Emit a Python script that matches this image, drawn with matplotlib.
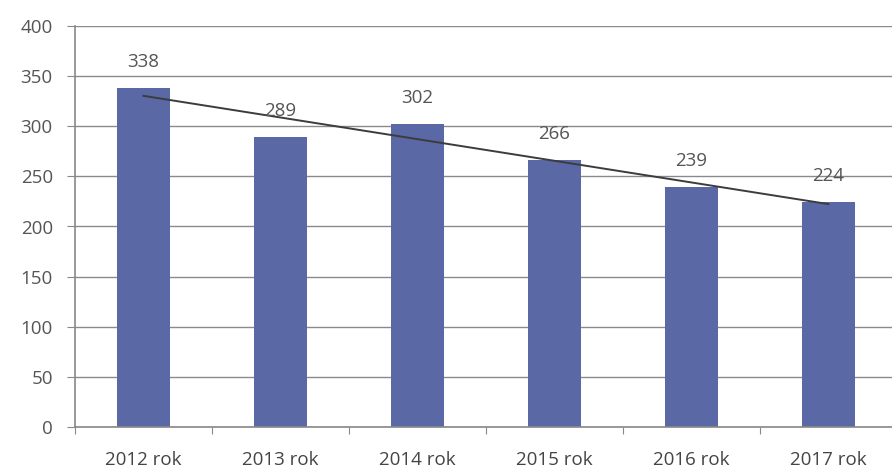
import numpy as np
import matplotlib.pyplot as plt

years = ['2012 rok', '2013 rok', '2014 rok', '2015 rok', '2016 rok', '2017 rok']
values = [338, 289, 302, 266, 239, 224]
yticks = [0, 50, 100, 150, 200, 250, 300, 350, 400]

plt.rcParams['font.family'] = ['Open Sans', 'DejaVu Sans']

fig = plt.figure(figsize=(8.92, 4.73), dpi=100)
ax = fig.add_axes([75 / 892, 46 / 473, 817 / 892, 401 / 473])

x = np.arange(len(values))
ax.bar(x, values, width=0.39, color='#5a68a6', zorder=2)

# linear trend line
k, b = np.polyfit(x, values, 1)
ax.plot(x, k * x + b, color='#3c3c3c', lw=1.4, zorder=3)

for xi, v in zip(x, values):
    ax.text(xi, v + 26, str(v), ha='center', va='center', fontsize=13.5, color='#555555', zorder=4)

ax.set_ylim(0, 400)
ax.set_xlim(-0.5, 5.5 - 5 / 137)
ax.set_yticks(yticks)
ax.yaxis.grid(True, color='#8a8a8a', lw=1.0, zorder=0)
ax.set_axisbelow(True)

ax.set_xticks(np.arange(-0.5, 5.5, 1.0))
ax.set_xticks(x, minor=True)
ax.set_xticklabels([])
ax.set_xticklabels(years, minor=True)
ax.tick_params(axis='x', which='major', length=5, color='#888888', direction='out')
ax.tick_params(axis='x', which='minor', length=0, labelsize=13.5, labelcolor='#444444', pad=17)
ax.tick_params(axis='y', length=6, color='#888888', labelsize=13.5, labelcolor='#555555', pad=10)

for side in ['top', 'right']:
    ax.spines[side].set_visible(False)
for side in ['left', 'bottom']:
    ax.spines[side].set_color('#888888')
    ax.spines[side].set_linewidth(1.2)

fig.savefig('out.png', dpi=100)
